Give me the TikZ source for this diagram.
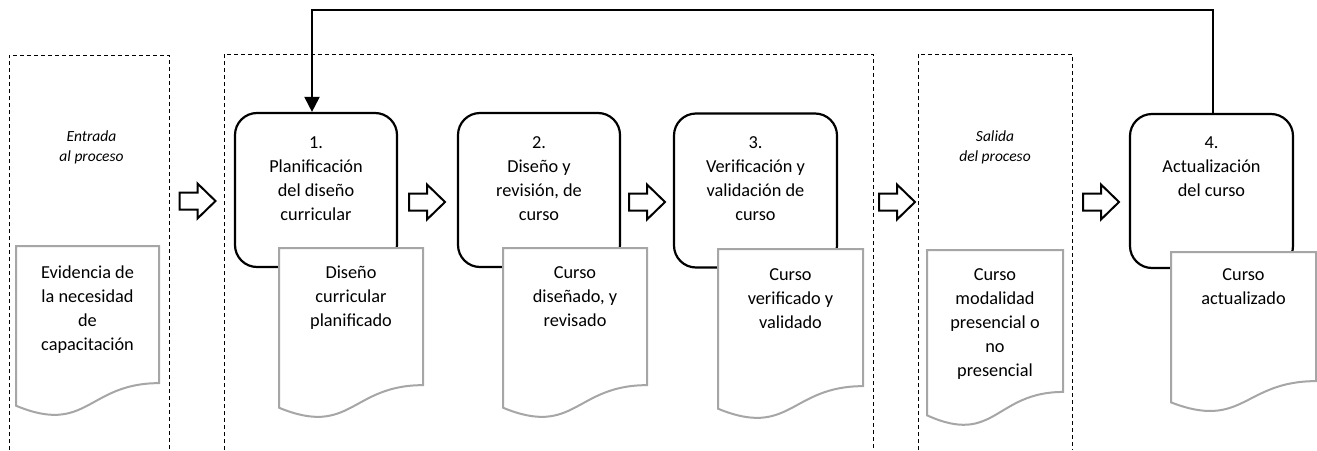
\documentclass[tikz,border=0pt]{standalone}
\usepackage{fontspec}
\setmainfont{Carlito}
\usetikzlibrary{arrows.meta,calc}
\definecolor{docgray}{HTML}{A6A6A6}
\newcommand{\docshape}[4]{%
  \draw[docline] (#1,#2) -- ({#1+#3},#2) -- ({#1+#3},{#2+0.802*#4})
    .. controls ({#1+0.5*#3},{#2+0.802*#4}) and ({#1+0.5*#3},{#2+1.108*#4}) ..
    (#1,{#2+0.934*#4}) -- cycle;}
\tikzset{
  dashbox/.style={draw, line width=0.9pt, dash pattern=on 4pt off 3pt},
  procbox/.style={draw, line width=2.2pt, rounded corners=22pt, fill=white,
    minimum width=162pt, minimum height=154pt, inner sep=0pt},
  proctext/.style={align=center, font=\fontsize{18.3}{24}\selectfont, inner sep=0pt, anchor=north},
  doctext/.style={align=center, font=\fontsize{18.3}{24}\selectfont, inner sep=0pt, anchor=north},
  labeltext/.style={align=center, font=\fontsize{15.5}{20}\selectfont\itshape, inner sep=0pt, anchor=north},
  docline/.style={draw=docgray, line width=2pt, fill=white, line join=miter},
  feedback/.style={draw, line width=2pt, -{Triangle[length=15pt,width=15pt]}},
  blockarrow/.pic={\draw[line width=2pt, fill=white, line join=miter]
     (0,-8.5) -- (18,-8.5) -- (18,-17.5) -- (36,0) -- (18,17.5) -- (18,8.5) -- (0,8.5) -- cycle;}
}
\begin{document}
\begin{tikzpicture}[x=1pt,y=-1pt]
\useasboundingbox (0,0) rectangle (1317,450);
% dashed regions (open at bottom)
\draw[dashbox] (9,450) -- (9,55) -- (169,55) -- (169,450);
\draw[dashbox] (224,450) -- (224,54) -- (873,54) -- (873,450);
\draw[dashbox] (918,450) -- (918,54) -- (1072,54) -- (1072,450);
% labels
\node[labeltext] (lin) at (91.5,127.5) {\strut Entrada\\\strut al proceso};
\node[labeltext] (lout) at (995,127.5) {\strut Salida\\\strut del proceso};
% process boxes
\node[procbox] (b1) at (316,190) {};
\node[procbox] (b2) at (539,190) {};
\node[procbox, minimum width=163pt] (b3) at (755.5,190.5) {};
\node[procbox, minimum width=163pt] (b4) at (1211.5,191) {};
\node[proctext] (t1) at (316,131.5) {\strut 1.\\\strut Planificación\\\strut del diseño\\\strut curricular};
\node[proctext] (t2) at (539,131.5) {\strut 2.\\\strut Diseño y\\\strut revisión, de\\\strut curso};
\node[proctext] (t3) at (755.5,131.5) {\strut 3.\\\strut Verificación y\\\strut validación de\\\strut curso};
\node[proctext] (t4) at (1211.5,131.5) {\strut 4.\\\strut Actualización\\\strut del curso};
% feedback connector
\coordinate (fbr) at ($(b4.north)+(1.5,0)$);
\coordinate (fbl) at ($(b1.north)+(-4,0)$);
\draw[feedback] (fbr) -- (fbr |- 0,10) -| (fbl);
% documents
\docshape{16}{246}{143}{171}
\docshape{279}{248}{144}{171}
\docshape{503}{248}{144}{171}
\docshape{718}{249}{145}{171}
\docshape{927}{250}{136}{177}
\docshape{1171}{252}{145}{161}
\node[doctext] (dA) at (87.5,261) {\strut Evidencia de\\\strut la necesidad\\\strut de\\\strut capacitación};
\node[doctext] (d1) at (351,261) {\strut Diseño\\\strut curricular\\\strut planificado};
\node[doctext] (d2) at (575,261) {\strut Curso\\\strut diseñado, y\\\strut revisado};
\node[doctext] (d3) at (790.5,263) {\strut Curso\\\strut verificado y\\\strut validado};
\node[doctext] (dC) at (995,263.5) {\strut Curso\\\strut modalidad\\\strut presencial o\\\strut no\\\strut presencial};
\node[doctext] (d4) at (1243.5,263.5) {\strut Curso\\\strut actualizado};
% block arrows
\pic at (179.5,201) {blockarrow};
\pic at (409,202) {blockarrow};
\pic at (629,202) {blockarrow};
\pic at (879,202) {blockarrow};
\pic at (1083,202) {blockarrow};
\end{tikzpicture}
\end{document}
